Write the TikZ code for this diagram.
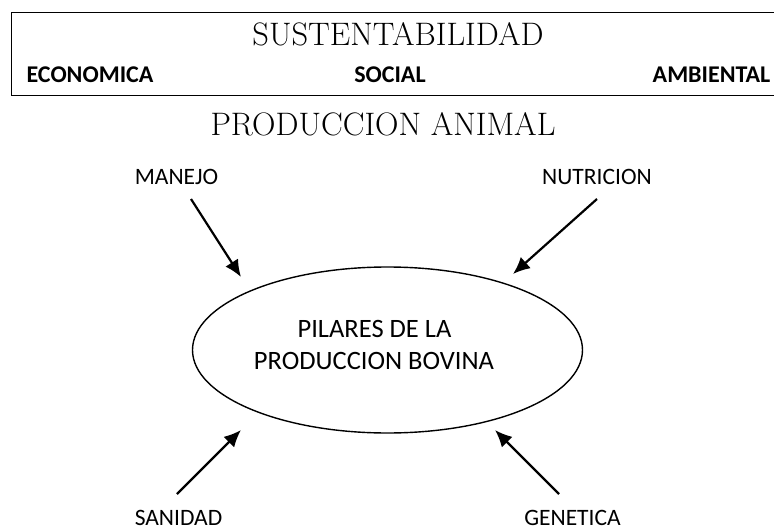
\documentclass[tikz,border=0pt]{standalone}
\usepackage{fontspec}
\setsansfont{Carlito}
\usetikzlibrary{arrows.meta,shapes.geometric}
\tikzset{
	titulo/.style={anchor=base, font=\fontsize{32.5}{38}\selectfont},
	rubro/.style={anchor=base, font=\sffamily\bfseries\fontsize{24}{28}\selectfont},
	pilar/.style={anchor=base, inner sep=0pt, text depth=0pt, font=\sffamily\fontsize{23.5}{28}\selectfont},
	centro/.style={anchor=base, font=\sffamily\fontsize{26.5}{32}\selectfont},
	flecha/.style={line width=2.2pt, -{Latex[length=17pt,width=15pt]}}
}

\begin{document}
\begin{tikzpicture}[x=1pt,y=-1pt]
			%%%%% START %%%%%
			\useasboundingbox (0,0) rectangle (774,530);
			
			\draw[line width=1pt] (774,12) -- (11,12) -- (11,95) -- (774,95);
			\node[titulo] (sust) at (398,45) {SUSTENTABILIDAD};
			\node[rubro] (economica) at (90,82) {ECONOMICA};
			\node[rubro] (social) at (390,82) {SOCIAL};
			\node[rubro] (ambiental) at (711.5,82) {AMBIENTAL};
			
			\node[titulo] (produccion) at (383,135) {PRODUCCION ANIMAL};
			
			\node[draw, ellipse, line width=1.4pt, inner sep=0pt, minimum width=390, minimum height=166] (elipse) at (387.5,350) {};
			\node[centro] (pilares1) at (374.5,337) {PILARES DE LA};
			\node[centro] (pilares2) at (374,369) {PRODUCCION BOVINA};
			
			\node[pilar] (manejo) at (176.5,184) {MANEJO};
			\node[pilar] (nutricion) at (597,184) {NUTRICION};
			\node[pilar] (sanidad) at (178.5,525) {SANIDAD};
			\node[pilar] (genetica) at (572.5,525) {GENETICA};
			
			\coordinate (manejo-a) at (191,199);
			\coordinate (manejo-b) at (241,277);
			\coordinate (nutricion-a) at (597,199);
			\coordinate (nutricion-b) at (513,274);
			\coordinate (sanidad-a) at (177,494);
			\coordinate (sanidad-b) at (241,430);
			\coordinate (genetica-a) at (559,494);
			\coordinate (genetica-b) at (495,430);
			
			\draw[flecha] (manejo-a) -- (manejo-b);
			\draw[flecha] (nutricion-a) -- (nutricion-b);
			\draw[flecha] (sanidad-a) -- (sanidad-b);
			\draw[flecha] (genetica-a) -- (genetica-b);
			
			%%%%% END %%%%%
\end{tikzpicture}
\end{document}
